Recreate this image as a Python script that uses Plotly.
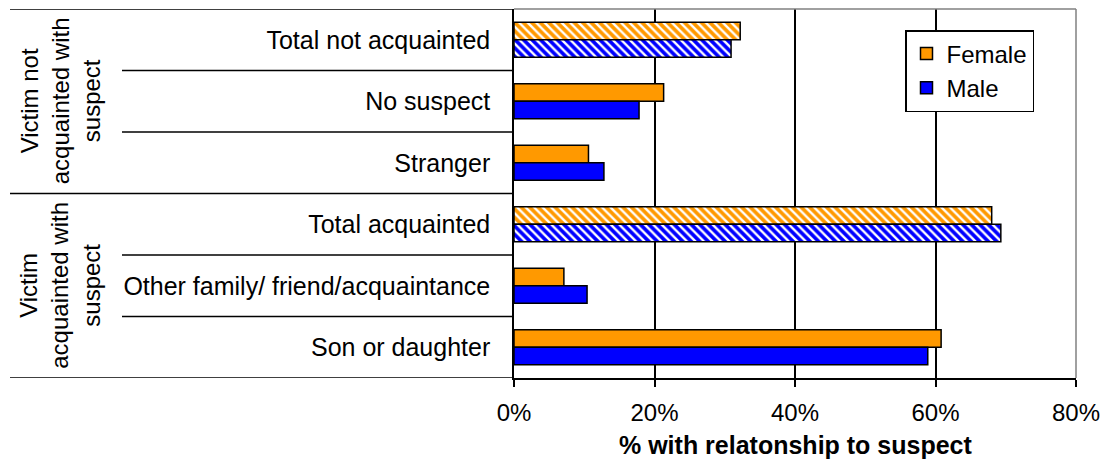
import plotly.graph_objects as go

categories = ["Total not acquainted", "No suspect", "Stranger",
              "Total acquainted", "Other family/ friend/acquaintance", "Son or daughter"]
female = [32.2, 21.3, 10.6, 68.0, 7.1, 60.8]
male = [30.9, 17.8, 12.8, 69.3, 10.4, 58.9]
is_total = [True, False, False, True, False, False]
group_labels = ["Victim not<br>acquainted with<br>suspect", "Victim<br>acquainted with<br>suspect"]
x_ticks = [0, 20, 40, 60, 80]
x_title = "% with relatonship to suspect"

ORANGE = "#FF9900"
BLUE = "#0000FF"
FONT = "Liberation Sans, Arial, sans-serif"
OFF = 8  # page body margin
W, H = 1108 - OFF, 461 - OFF
PL, PR, PT, PB = 514, 1076, 9, 378  # reference screen pixels


def px_x(p):
    return (p - OFF) / W


def px_y(p):
    return min(1.0, 1 - (p - OFF) / H)


fig = go.Figure()


def add_series(name, vals, color, group):
    solid_y = [c for c, t in zip(categories, is_total) if not t]
    solid_x = [v for v, t in zip(vals, is_total) if not t]
    tot_y = [c for c, t in zip(categories, is_total) if t]
    tot_x = [v for v, t in zip(vals, is_total) if t]
    fig.add_trace(go.Bar(
        y=solid_y, x=solid_x, orientation="h", name=name,
        marker=dict(color=color, line=dict(color="black", width=1.5)),
        offsetgroup=group, legendgroup=group, showlegend=True,
        hoverinfo="skip"))
    fig.add_trace(go.Bar(
        y=tot_y, x=tot_x, orientation="h", name=name,
        marker=dict(color=color, line=dict(color="black", width=1.5),
                    pattern=dict(shape="\\", fillmode="replace", bgcolor=color,
                                 fgcolor="white", size=6, solidity=0.4)),
        offsetgroup=group, legendgroup=group, showlegend=False,
        hoverinfo="skip"))


add_series("Female", female, ORANGE, "F")
add_series("Male", male, BLUE, "M")

shapes = []
# full-width separators (group borders)
for yv in [-0.5, 2.5, 5.5]:
    shapes.append(dict(type="line", xref="paper", yref="y", x0=px_x(10), x1=px_x(PL),
                       y0=yv, y1=yv, line=dict(color="black", width=1.5)))
# inner separators
for yv in [0.5, 1.5, 3.5, 4.5]:
    shapes.append(dict(type="line", xref="paper", yref="y", x0=px_x(122), x1=px_x(PL),
                       y0=yv, y1=yv, line=dict(color="black", width=1.5)))
# gray top/right border
shapes.append(dict(type="line", xref="x domain", yref="y domain", x0=0, x1=1, y0=1, y1=1,
                   line=dict(color="#808080", width=1.5)))
shapes.append(dict(type="line", xref="x domain", yref="y domain", x0=1, x1=1, y0=0, y1=1,
                   line=dict(color="#808080", width=1.5)))

annotations = []
for lbl, yc in zip(group_labels, [1, 4]):
    annotations.append(dict(text=lbl, xref="paper", yref="y", x=px_x(60), y=yc,
                            textangle=-90, showarrow=False,
                            font=dict(family=FONT, size=24, color="black"),
                            xanchor="center", yanchor="middle"))
annotations.append(dict(text="<b>" + x_title + "</b>", xref="paper", yref="paper",
                        x=px_x((PL + PR) / 2), y=px_y(445), showarrow=False,
                        font=dict(family=FONT, size=25, color="black"),
                        xanchor="center", yanchor="middle"))

fig.update_layout(
    width=W, height=H,
    margin=dict(l=0, r=0, t=0, b=0, pad=0),
    paper_bgcolor="white", plot_bgcolor="white",
    barmode="group", bargap=0.43, bargroupgap=0,
    font=dict(family=FONT, size=24, color="black"),
    showlegend=True,
    legend=dict(x=px_x(905), y=px_y(30), xanchor="left", yanchor="top",
                bgcolor="white", bordercolor="black", borderwidth=1.5,
                font=dict(family=FONT, size=24, color="black"),
                tracegroupgap=8, traceorder="normal"),
    xaxis=dict(domain=[px_x(PL), px_x(PR)], range=[0, 80], tickvals=x_ticks,
               ticktext=[f"{v}%" for v in x_ticks],
               showgrid=True, gridcolor="black", gridwidth=1.5,
               showline=True, linecolor="black", linewidth=1.5,
               ticks="outside", ticklen=7, tickwidth=1.5, tickcolor="black",
               ticklabelstandoff=5,
               zeroline=False, automargin=False, fixedrange=True),
    yaxis=dict(domain=[px_y(PB), px_y(PT)], categoryorder="array", categoryarray=categories,
               range=[5.5, -0.5], showgrid=False,
               showline=True, linecolor="black", linewidth=1.5,
               ticks="", ticklabelstandoff=17,
               tickfont=dict(family=FONT, size=25, color="black"),
               zeroline=False, automargin=False, fixedrange=True),
    shapes=shapes, annotations=annotations,
)

fig.write_html("out.html")
